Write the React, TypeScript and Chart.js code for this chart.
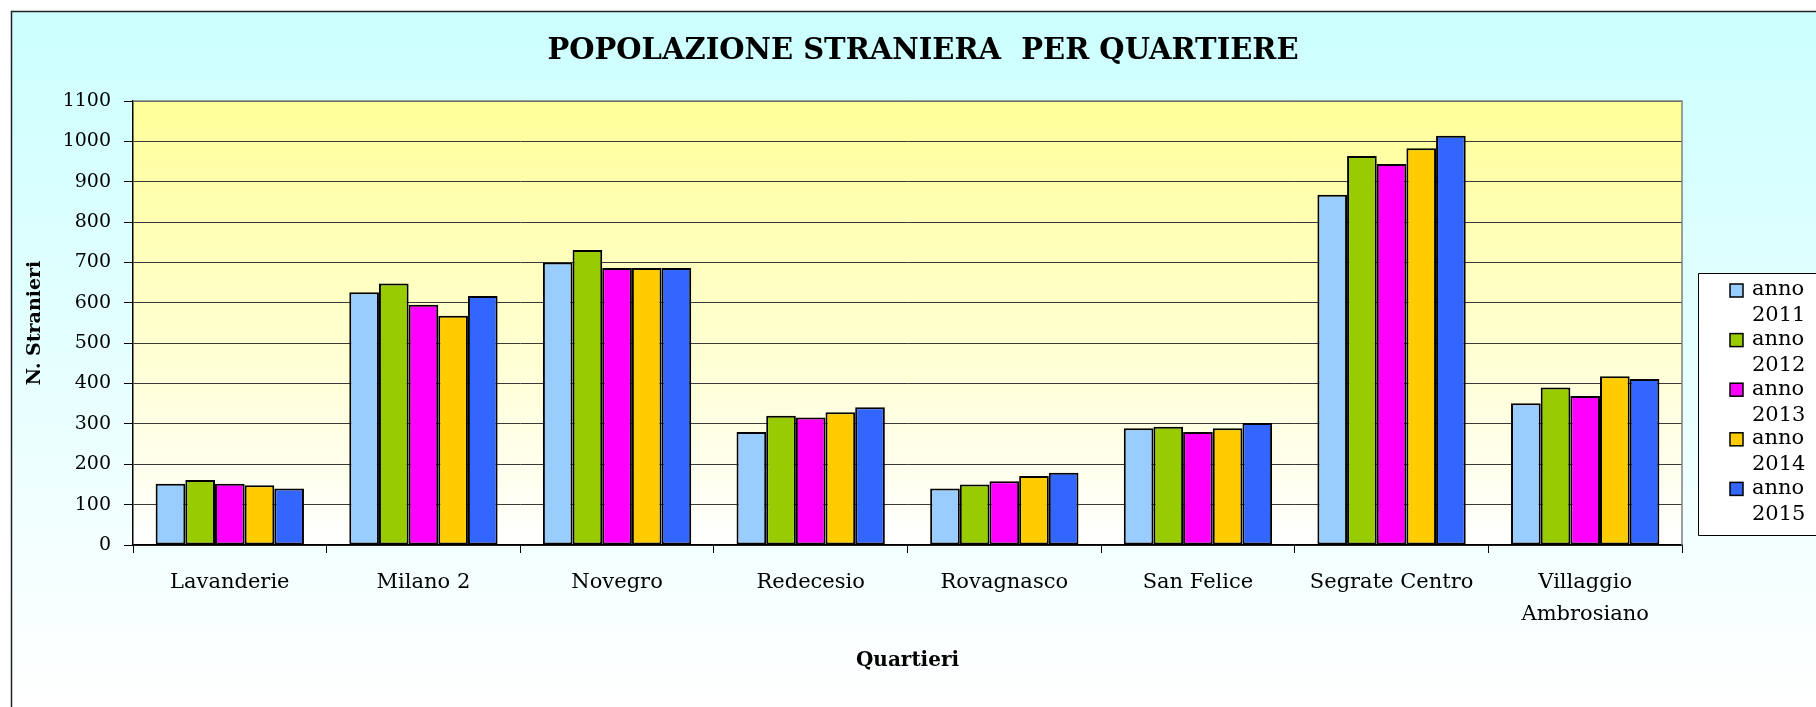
import React, { useEffect, useRef } from "react";
import { Chart, registerables } from "chart.js";

Chart.register(...registerables);

const W = 1816;
const H = 707;

const chartTitle = "POPOLAZIONE STRANIERA  PER QUARTIERE";
const xAxisTitle = "Quartieri";
const yAxisTitle = "N. Stranieri";

const categories: (string | string[])[] = [
  "Lavanderie",
  "Milano 2",
  "Novegro",
  "Redecesio",
  "Rovagnasco",
  "San Felice",
  "Segrate Centro",
  ["Villaggio", "Ambrosiano"],
];

const seriesLabels = ["anno 2011", "anno 2012", "anno 2013", "anno 2014", "anno 2015"];
const seriesColors = ["#99CCFF", "#99CC00", "#FF00FF", "#FFCC00", "#3366FF"];

const anno2011 = [152, 626, 700, 280, 140, 289, 868, 351];
const anno2012 = [161, 648, 731, 320, 150, 293, 964, 390];
const anno2013 = [152, 595, 686, 316, 158, 280, 944, 369];
const anno2014 = [148, 568, 686, 329, 171, 289, 983, 418];
const anno2015 = [140, 617, 686, 341, 179, 302, 1014, 411];

const seriesValues = [anno2011, anno2012, anno2013, anno2014, anno2015];

const yMin = 0;
const yMax = 1100;
const yStep = 100;

const SERIF = "'DejaVu Serif', 'Liberation Serif', serif";

const decorPlugin = {
  id: "decor",
  beforeDraw(chart: any) {
    const ctx = chart.ctx as CanvasRenderingContext2D;
    const { left, top, right, bottom } = chart.chartArea;
    ctx.save();
    ctx.fillStyle = "#FFFFFF";
    ctx.fillRect(0, 0, W, H);
    // outer frame with cyan gradient
    const g = ctx.createLinearGradient(0, 11, 0, H);
    g.addColorStop(0, "#CCFFFF");
    g.addColorStop(1, "#FFFFFF");
    ctx.fillStyle = g;
    ctx.fillRect(11, 11, W, H);
    ctx.strokeStyle = "#222";
    ctx.lineWidth = 1.5;
    ctx.beginPath();
    ctx.moveTo(11.5, H + 5);
    ctx.lineTo(11.5, 11.5);
    ctx.lineTo(W + 5, 11.5);
    ctx.stroke();
    // plot area gradient
    const pg = ctx.createLinearGradient(0, top, 0, bottom);
    pg.addColorStop(0, "#FFFF99");
    pg.addColorStop(1, "#FFFFFF");
    ctx.fillStyle = pg;
    ctx.fillRect(left, top, right - left, bottom - top);
    // title
    ctx.fillStyle = "#000";
    ctx.font = `bold 29px ${SERIF}`;
    ctx.textAlign = "center";
    ctx.textBaseline = "middle";
    ctx.fillText(chartTitle, 923, 51);
    ctx.restore();
  },
  afterDraw(chart: any) {
    const ctx = chart.ctx as CanvasRenderingContext2D;
    const { left, top, right, bottom } = chart.chartArea;
    ctx.save();
    // plot border (top and right, gray)
    ctx.strokeStyle = "#808080";
    ctx.lineWidth = 1.5;
    ctx.beginPath();
    ctx.moveTo(left, top);
    ctx.lineTo(right, top);
    ctx.lineTo(right, bottom);
    ctx.stroke();

    // legend
    const lx = 1698.5;
    const ly = 273.5;
    const lb = 535.5;
    ctx.fillStyle = "#FFFFFF";
    ctx.fillRect(lx, ly, W, lb - ly);
    ctx.strokeStyle = "#000";
    ctx.lineWidth = 1;
    ctx.beginPath();
    ctx.moveTo(W + 5, ly);
    ctx.lineTo(lx, ly);
    ctx.lineTo(lx, lb);
    ctx.lineTo(W + 5, lb);
    ctx.stroke();

    ctx.font = `21px ${SERIF}`;
    ctx.textAlign = "left";
    ctx.textBaseline = "middle";
    chart.data.datasets.forEach((ds: any, i: number) => {
      const cy = 290 + i * 49.6;
      ctx.fillStyle = ds.backgroundColor;
      ctx.fillRect(1730, cy - 6, 13, 13);
      ctx.strokeStyle = "#000";
      ctx.lineWidth = 1.5;
      ctx.strokeRect(1730, cy - 6, 13, 13);
      const parts = String(ds.label).split(" ");
      ctx.fillStyle = "#000";
      ctx.fillText(parts[0], 1752, cy);
      ctx.fillText(parts.slice(1).join(" "), 1752, cy + 26);
    });
    ctx.restore();
  },
};

export default function App() {
  const ref = useRef<HTMLCanvasElement | null>(null);

  useEffect(() => {
    if (!ref.current) return;
    const chart = new Chart(ref.current, {
      type: "bar",
      data: {
        labels: categories,
        datasets: seriesLabels.map((label, i) => ({
          label,
          data: seriesValues[i],
          backgroundColor: seriesColors[i],
          borderColor: "#000000",
          borderWidth: 2,
          borderSkipped: false,
          categoryPercentage: 0.766,
          barPercentage: 1.0,
        })),
      },
      options: {
        responsive: false,
        animation: false,
        devicePixelRatio: 1,
        layout: { padding: { left: 0, top: 101, right: 134, bottom: 0 } },
        plugins: {
          legend: { display: false },
          title: { display: false },
          tooltip: { enabled: false },
        },
        scales: {
          x: {
            type: "category",
            offset: true,
            afterFit: (scale: any) => {
              scale.height = 162;
            },
            grid: {
              display: true,
              offset: true,
              drawOnChartArea: false,
              drawTicks: true,
              tickLength: 8,
              tickColor: "#000",
              tickWidth: 1,
            },
            border: { display: true, color: "#000", width: 1.5 },
            ticks: {
              color: "#000",
              padding: 13,
              maxRotation: 0,
              minRotation: 0,
              autoSkip: false,
              font: { family: SERIF, size: 21, lineHeight: 1.54 },
            },
            title: {
              display: true,
              text: xAxisTitle,
              color: "#000",
              font: { family: SERIF, size: 20, weight: "bold", lineHeight: 1.2 },
              padding: { top: 0, bottom: 34 },
            },
          },
          y: {
            min: yMin,
            max: yMax,
            afterFit: (scale: any) => {
              scale.width = 133;
            },
            grid: {
              display: true,
              color: "#3a3a3a",
              lineWidth: 1,
              drawTicks: true,
              tickLength: 9,
              tickColor: "#000",
            },
            border: { display: true, color: "#000", width: 1.5 },
            ticks: {
              stepSize: yStep,
              color: "#000",
              padding: 13,
              font: { family: SERIF, size: 19 },
              callback: (value: any) => String(value),
            },
            title: {
              display: true,
              text: yAxisTitle,
              color: "#000",
              font: { family: SERIF, size: 19, weight: "bold", lineHeight: 1.2 },
              padding: { top: 24, bottom: 0 },
            },
          },
        },
      },
      plugins: [decorPlugin],
    });
    return () => chart.destroy();
  }, []);

  return (
    <div style={{ position: "fixed", left: 0, top: 0, width: W, height: H }}>
      <canvas ref={ref} width={W} height={H} style={{ width: W, height: H, display: "block" }} />
    </div>
  );
}
